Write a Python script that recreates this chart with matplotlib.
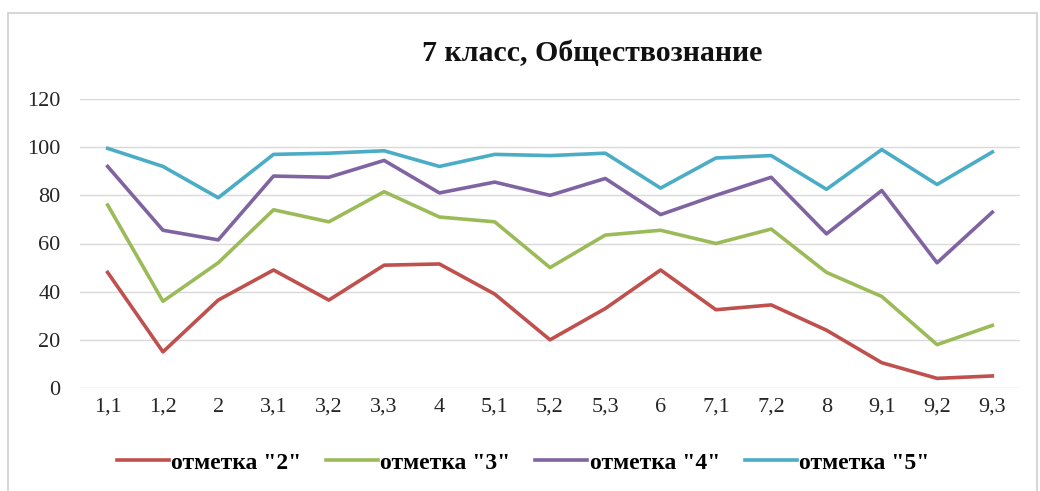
import matplotlib
matplotlib.use("Agg")
import matplotlib.pyplot as plt
from matplotlib.patches import Rectangle

categories = ["1,1", "1,2", "2", "3,1", "3,2", "3,3", "4", "5,1", "5,2", "5,3",
              "6", "7,1", "7,2", "8", "9,1", "9,2", "9,3"]
mark2 = [48, 15, 36.5, 49, 36.5, 51, 51.5, 39, 20, 33, 49, 32.5, 34.5, 24, 10.5, 4, 5]
mark3 = [76, 36, 52, 74, 69, 81.5, 71, 69, 50, 63.5, 65.5, 60, 66, 48, 38, 18, 26]
mark4 = [92, 65.5, 61.5, 88, 87.5, 94.5, 81, 85.5, 80, 87, 72, 80, 87.5, 64, 82, 52, 73]
mark5 = [99.5, 92, 79, 97, 97.5, 98.5, 92, 97, 96.5, 97.5, 83, 95.5, 96.5, 82.5, 99, 84.5, 98]
series_names = ['отметка "2"', 'отметка "3"', 'отметка "4"', 'отметка "5"']
colors = ["#C0504D", "#9BBB59", "#8064A2", "#4BACC6"]
yticks = [0, 20, 40, 60, 80, 100, 120]
title = "7 класс, Обществознание"

plt.rcParams['font.family'] = ['Liberation Serif', 'DejaVu Serif']

fig = plt.figure(figsize=(10.4, 4.91), dpi=100)
fig.patches.append(Rectangle((8/1040, -0.1), (1037-8)/1040, 1.1 - 13/491,
                             transform=fig.transFigure, fill=False,
                             edgecolor="#D0D0D0", linewidth=1.2))
ax = fig.add_axes([80/1040, 1-388/491, (1020-80)/1040, (388-99)/491])

x = list(range(len(categories)))
for vals, name, c in zip([mark2, mark3, mark4, mark5], series_names, colors):
    ax.plot(x, vals, color=c, linewidth=2.6, label=name, solid_joinstyle="round")

ax.set_xlim(-0.5, len(categories) - 0.5)
ax.set_ylim(0, 120)
ax.set_yticks(yticks)
ax.set_xticks(x)
ax.set_xticklabels(categories)
ax.yaxis.grid(True, color="#D9D9D9", linewidth=1.0)
ax.set_axisbelow(True)
for s in ax.spines.values():
    s.set_visible(False)
ax.tick_params(axis="both", length=0, labelsize=16, colors="#262626")
ax.tick_params(axis="y", pad=14)
ax.tick_params(axis="x", pad=7)

fig.text(592/1040, 1-53/491, title, ha="center", va="center",
         fontsize=21.5, fontweight="bold", color="#111111")

fig.legend(loc="center", bbox_to_anchor=(0.503, 1-463/491), ncol=4, frameon=False,
           prop={"size": 17, "weight": "bold"}, handlelength=2.2, handletextpad=0.1,
           columnspacing=1.05)

fig.savefig("out.png", dpi=100)
